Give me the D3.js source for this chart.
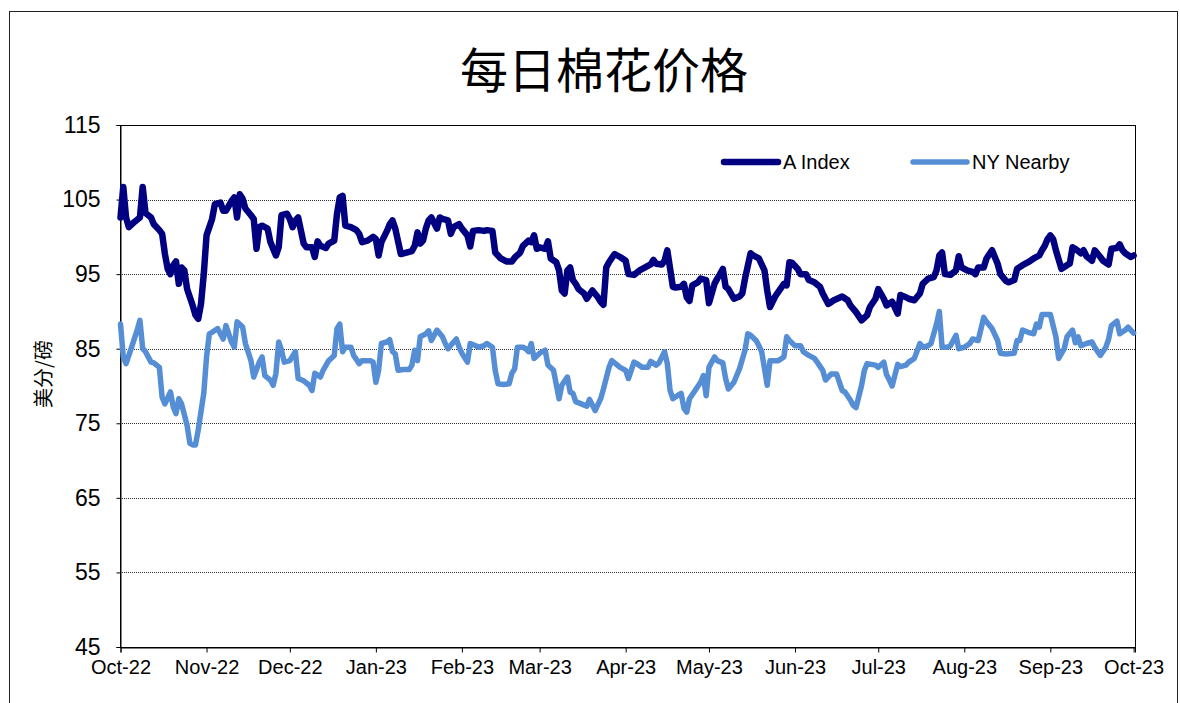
<!DOCTYPE html>
<meta charset="utf-8">
<script src="https://d3js.org/d3.v7.min.js"></script>
<style>
  body { margin: 0; background: #fff; }
  text { font-family: "Liberation Sans", Arial, sans-serif; fill: #000; }
</style>
<body>
<div id="chart"></div>
<script>

// chart texts
var title = "每日棉花价格";
var yLabel = "美分/磅";
var seriesNames = ["A Index", "NY Nearby"];
var yTicks = [45, 55, 65, 75, 85, 95, 105, 115];

// A Index, cents per pound
var aIndex = [
  ["2022-10-01",102.6],["2022-10-02",106.7],["2022-10-03",102.6],["2022-10-04",101.3],["2022-10-06",102.0],
  ["2022-10-08",102.6],["2022-10-09",106.7],["2022-10-10",103.2],["2022-10-12",102.6],["2022-10-13",101.7],
  ["2022-10-15",100.9],["2022-10-16",100.4],["2022-10-17",97.7],["2022-10-18",95.7],["2022-10-19",95.0],
  ["2022-10-20",96.2],["2022-10-21",96.7],["2022-10-22",93.7],["2022-10-23",95.9],["2022-10-24",95.5],
  ["2022-10-25",93.0],["2022-10-27",90.8],["2022-10-28",89.5],["2022-10-29",89.0],["2022-10-30",91.0],
  ["2022-10-31",95.0],["2022-11-01",100.2],["2022-11-03",102.4],["2022-11-04",104.4],["2022-11-06",104.6],
  ["2022-11-07",103.5],["2022-11-08",103.5],["2022-11-10",104.8],["2022-11-11",105.3],["2022-11-12",102.6],
  ["2022-11-13",105.7],["2022-11-14",105.1],["2022-11-15",103.8],["2022-11-17",102.9],["2022-11-18",102.4],
  ["2022-11-19",98.4],["2022-11-20",101.3],["2022-11-21",101.5],["2022-11-23",101.1],["2022-11-24",99.3],
  ["2022-11-26",97.5],["2022-11-27",98.6],["2022-11-28",102.9],["2022-11-30",103.1],["2022-12-01",102.4],
  ["2022-12-02",101.3],["2022-12-03",102.2],["2022-12-04",102.6],["2022-12-06",99.1],["2022-12-07",98.6],
  ["2022-12-09",98.6],["2022-12-10",97.3],["2022-12-11",99.4],["2022-12-12",98.8],["2022-12-14",98.5],
  ["2022-12-15",99.1],["2022-12-17",99.5],["2022-12-18",103.1],["2022-12-19",105.3],["2022-12-20",105.5],
  ["2022-12-21",101.5],["2022-12-23",101.3],["2022-12-25",100.9],["2022-12-26",100.4],["2022-12-27",99.3],
  ["2022-12-29",99.5],["2022-12-31",100.0],["2023-01-01",99.7],["2023-01-02",97.5],["2023-01-03",99.3],
  ["2023-01-05",100.8],["2023-01-06",101.7],["2023-01-07",102.2],["2023-01-08",101.1],["2023-01-10",97.7],
  ["2023-01-12",97.9],["2023-01-14",98.1],["2023-01-15",98.8],["2023-01-16",100.6],["2023-01-17",99.1],
  ["2023-01-18",99.5],["2023-01-19",101.1],["2023-01-20",102.2],["2023-01-21",102.6],["2023-01-23",101.1],
  ["2023-01-24",102.6],["2023-01-25",102.4],["2023-01-27",102.2],["2023-01-28",100.4],["2023-01-29",101.3],
  ["2023-01-31",101.7],["2023-02-01",101.1],["2023-02-03",100.2],["2023-02-04",98.7],["2023-02-05",100.8],
  ["2023-02-07",100.9],["2023-02-09",100.8],["2023-02-10",100.9],["2023-02-12",100.8],["2023-02-13",97.9],
  ["2023-02-15",97.1],["2023-02-17",96.7],["2023-02-19",96.7],["2023-02-20",97.2],["2023-02-22",97.9],
  ["2023-02-23",98.8],["2023-02-25",99.5],["2023-02-26",99.3],["2023-02-27",100.2],["2023-02-28",98.4],
  ["2023-03-01",98.6],["2023-03-03",98.4],["2023-03-04",99.4],["2023-03-05",97.1],["2023-03-07",96.6],
  ["2023-03-08",95.5],["2023-03-09",92.8],["2023-03-10",92.4],["2023-03-11",95.5],["2023-03-12",95.9],
  ["2023-03-13",94.2],["2023-03-14",93.7],["2023-03-15",93.0],["2023-03-17",92.4],["2023-03-18",91.7],
  ["2023-03-20",92.8],["2023-03-22",91.9],["2023-03-23",91.3],["2023-03-24",90.9],["2023-03-25",95.9],
  ["2023-03-26",96.6],["2023-03-28",97.7],["2023-03-30",97.3],["2023-04-01",96.8],["2023-04-02",95.0],
  ["2023-04-04",94.9],["2023-04-06",95.5],["2023-04-08",95.9],["2023-04-10",96.3],["2023-04-11",96.9],
  ["2023-04-12",96.4],["2023-04-14",96.3],["2023-04-15",96.8],["2023-04-16",98.2],["2023-04-18",93.3],
  ["2023-04-19",93.2],["2023-04-21",93.3],["2023-04-22",93.7],["2023-04-23",91.9],["2023-04-24",91.4],
  ["2023-04-25",93.5],["2023-04-27",93.9],["2023-04-28",94.4],["2023-04-30",94.2],["2023-05-01",91.1],
  ["2023-05-03",93.7],["2023-05-04",94.4],["2023-05-05",95.0],["2023-05-06",95.7],["2023-05-07",93.3],
  ["2023-05-08",93.0],["2023-05-10",91.7],["2023-05-12",92.0],["2023-05-13",92.4],["2023-05-14",94.4],
  ["2023-05-16",97.8],["2023-05-17",97.5],["2023-05-19",97.1],["2023-05-21",95.5],["2023-05-22",92.8],
  ["2023-05-23",90.6],["2023-05-25",92.1],["2023-05-28",93.7],["2023-05-29",93.5],["2023-05-30",96.6],
  ["2023-05-31",96.5],["2023-06-02",95.7],["2023-06-03",95.0],["2023-06-05",95.0],["2023-06-06",94.2],
  ["2023-06-08",93.9],["2023-06-10",93.3],["2023-06-11",92.4],["2023-06-13",91.0],["2023-06-15",91.5],
  ["2023-06-18",92.0],["2023-06-20",91.5],["2023-06-21",90.8],["2023-06-23",89.9],["2023-06-25",88.8],
  ["2023-06-27",89.5],["2023-06-28",90.6],["2023-06-30",91.7],["2023-07-01",93.0],["2023-07-03",91.7],
  ["2023-07-04",90.8],["2023-07-06",91.3],["2023-07-08",89.7],["2023-07-09",92.2],["2023-07-11",91.9],
  ["2023-07-12",91.7],["2023-07-14",91.5],["2023-07-16",92.4],["2023-07-17",93.7],["2023-07-19",94.4],
  ["2023-07-21",94.6],["2023-07-22",95.5],["2023-07-23",97.5],["2023-07-24",97.9],["2023-07-25",95.0],
  ["2023-07-27",94.9],["2023-07-29",95.5],["2023-07-30",97.4],["2023-07-31",95.9],["2023-08-02",95.5],
  ["2023-08-04",95.3],["2023-08-05",95.0],["2023-08-06",95.9],["2023-08-08",95.9],["2023-08-09",97.1],
  ["2023-08-11",98.2],["2023-08-13",96.4],["2023-08-14",95.0],["2023-08-16",94.1],["2023-08-17",93.9],
  ["2023-08-19",94.2],["2023-08-20",95.7],["2023-08-22",96.2],["2023-08-24",96.6],["2023-08-26",97.1],
  ["2023-08-28",97.5],["2023-08-29",98.2],["2023-08-30",98.8],["2023-08-31",99.7],["2023-09-01",100.2],
  ["2023-09-02",99.7],["2023-09-03",98.2],["2023-09-05",95.7],["2023-09-07",96.2],["2023-09-08",96.4],
  ["2023-09-09",98.6],["2023-09-10",98.4],["2023-09-12",97.8],["2023-09-13",98.2],["2023-09-14",97.4],
  ["2023-09-16",96.8],["2023-09-17",98.2],["2023-09-19",97.3],["2023-09-20",96.8],["2023-09-22",96.3],
  ["2023-09-23",98.4],["2023-09-25",98.5],["2023-09-26",99.0],["2023-09-27",98.2],["2023-09-28",97.8],
  ["2023-09-30",97.3],["2023-10-01",97.5]
];

// NY Nearby futures, cents per pound
var nyNearby = [
  ["2022-10-01",88.3],["2022-10-02",83.9],["2022-10-03",83.0],["2022-10-05",85.2],["2022-10-07",87.5],
  ["2022-10-08",88.8],["2022-10-09",85.0],["2022-10-10",84.6],["2022-10-12",83.2],["2022-10-13",83.1],
  ["2022-10-15",82.5],["2022-10-16",78.5],["2022-10-17",77.6],["2022-10-19",79.2],["2022-10-20",77.2],
  ["2022-10-21",76.3],["2022-10-22",78.3],["2022-10-23",77.6],["2022-10-25",74.7],["2022-10-26",72.3],
  ["2022-10-27",72.1],["2022-10-28",72.1],["2022-10-29",74.1],["2022-10-31",79.0],["2022-11-01",83.9],
  ["2022-11-02",87.0],["2022-11-03",87.2],["2022-11-05",87.7],["2022-11-07",86.3],["2022-11-08",88.1],
  ["2022-11-09",87.0],["2022-11-10",85.9],["2022-11-11",85.2],["2022-11-12",88.6],["2022-11-14",87.9],
  ["2022-11-15",85.7],["2022-11-17",83.4],["2022-11-18",81.2],["2022-11-20",83.2],["2022-11-21",83.9],
  ["2022-11-22",81.4],["2022-11-24",80.8],["2022-11-25",80.1],["2022-11-26",81.7],["2022-11-27",85.9],
  ["2022-11-28",84.8],["2022-11-29",83.2],["2022-12-01",83.4],["2022-12-03",84.6],["2022-12-04",81.0],
  ["2022-12-06",80.7],["2022-12-08",80.1],["2022-12-09",79.4],["2022-12-10",81.7],["2022-12-12",81.2],
  ["2022-12-13",82.1],["2022-12-15",83.4],["2022-12-17",84.1],["2022-12-18",87.7],["2022-12-19",88.3],
  ["2022-12-20",84.6],["2022-12-21",85.2],["2022-12-23",85.2],["2022-12-24",84.1],["2022-12-26",83.0],
  ["2022-12-27",83.4],["2022-12-30",83.4],["2022-12-31",83.2],["2023-01-01",80.5],["2023-01-02",82.1],
  ["2023-01-03",85.7],["2023-01-05",85.9],["2023-01-06",86.2],["2023-01-07",84.6],["2023-01-08",84.3],
  ["2023-01-09",82.1],["2023-01-11",82.2],["2023-01-13",82.2],["2023-01-14",82.8],["2023-01-15",84.8],
  ["2023-01-16",83.4],["2023-01-17",86.6],["2023-01-19",87.0],["2023-01-20",87.4],["2023-01-21",86.1],
  ["2023-01-23",87.5],["2023-01-25",86.6],["2023-01-26",85.7],["2023-01-27",85.0],["2023-01-29",85.9],
  ["2023-01-30",86.3],["2023-01-31",85.2],["2023-02-01",84.4],["2023-02-03",83.2],["2023-02-04",85.7],
  ["2023-02-06",85.4],["2023-02-07",85.2],["2023-02-09",85.4],["2023-02-10",85.7],["2023-02-12",85.2],
  ["2023-02-13",82.1],["2023-02-14",80.3],["2023-02-16",80.2],["2023-02-18",80.3],["2023-02-19",81.7],
  ["2023-02-20",82.3],["2023-02-21",85.2],["2023-02-23",85.2],["2023-02-24",85.0],["2023-02-25",84.6],
  ["2023-02-26",85.7],["2023-02-27",83.7],["2023-03-01",84.4],["2023-03-02",84.6],["2023-03-03",84.8],
  ["2023-03-04",82.8],["2023-03-06",82.1],["2023-03-08",78.3],["2023-03-09",80.1],["2023-03-11",81.2],
  ["2023-03-12",79.2],["2023-03-13",79.0],["2023-03-14",77.9],["2023-03-16",77.6],["2023-03-18",77.3],
  ["2023-03-19",78.2],["2023-03-21",76.7],["2023-03-23",78.3],["2023-03-24",79.6],["2023-03-26",82.5],
  ["2023-03-27",83.4],["2023-03-29",82.8],["2023-03-30",82.5],["2023-04-01",82.1],["2023-04-02",81.0],
  ["2023-04-04",83.2],["2023-04-05",83.0],["2023-04-07",82.5],["2023-04-09",82.5],["2023-04-10",83.3],
  ["2023-04-12",82.8],["2023-04-13",83.1],["2023-04-15",84.6],["2023-04-16",83.0],["2023-04-17",79.4],
  ["2023-04-18",78.3],["2023-04-20",78.8],["2023-04-21",79.0],["2023-04-22",77.0],["2023-04-23",76.5],
  ["2023-04-24",78.3],["2023-04-26",79.4],["2023-04-28",80.5],["2023-04-29",81.4],["2023-04-30",78.7],
  ["2023-05-01",82.5],["2023-05-03",83.9],["2023-05-04",83.4],["2023-05-06",83.1],["2023-05-07",81.0],
  ["2023-05-08",79.6],["2023-05-10",80.5],["2023-05-11",81.4],["2023-05-12",82.3],["2023-05-14",84.8],
  ["2023-05-15",87.0],["2023-05-16",86.8],["2023-05-18",86.1],["2023-05-19",85.4],["2023-05-20",84.6],
  ["2023-05-22",80.1],["2023-05-23",83.4],["2023-05-24",83.4],["2023-05-26",83.4],["2023-05-28",83.9],
  ["2023-05-29",86.6],["2023-05-30",86.1],["2023-06-01",85.4],["2023-06-03",85.4],["2023-06-04",84.6],
  ["2023-06-06",84.1],["2023-06-08",83.7],["2023-06-09",83.2],["2023-06-11",82.1],["2023-06-12",80.8],
  ["2023-06-14",81.6],["2023-06-16",81.6],["2023-06-18",79.4],["2023-06-19",79.2],["2023-06-21",78.1],
  ["2023-06-22",77.4],["2023-06-23",77.1],["2023-06-25",80.1],["2023-06-26",82.1],["2023-06-27",83.0],
  ["2023-06-30",82.8],["2023-07-01",82.5],["2023-07-03",83.2],["2023-07-04",81.5],["2023-07-05",80.8],
  ["2023-07-06",80.0],["2023-07-08",82.9],["2023-07-09",82.6],["2023-07-11",82.8],["2023-07-12",83.2],
  ["2023-07-14",83.7],["2023-07-16",85.7],["2023-07-17",85.2],["2023-07-19",85.4],["2023-07-20",85.7],
  ["2023-07-22",88.3],["2023-07-23",90.0],["2023-07-24",85.2],["2023-07-26",85.2],["2023-07-27",85.4],
  ["2023-07-29",86.8],["2023-07-30",85.0],["2023-08-01",85.2],["2023-08-03",85.7],["2023-08-04",86.3],
  ["2023-08-06",86.1],["2023-08-08",89.2],["2023-08-09",88.6],["2023-08-11",87.7],["2023-08-13",86.1],
  ["2023-08-14",84.4],["2023-08-16",84.3],["2023-08-19",84.4],["2023-08-20",86.1],["2023-08-21",86.1],
  ["2023-08-22",87.5],["2023-08-24",87.2],["2023-08-26",87.0],["2023-08-27",88.3],["2023-08-28",87.9],
  ["2023-08-29",89.6],["2023-08-31",89.6],["2023-09-01",89.6],["2023-09-03",86.6],["2023-09-04",83.7],
  ["2023-09-06",85.0],["2023-09-07",86.6],["2023-09-09",87.5],["2023-09-10",85.8],["2023-09-11",86.6],
  ["2023-09-12",85.4],["2023-09-14",85.7],["2023-09-16",85.9],["2023-09-17",85.2],["2023-09-19",84.1],
  ["2023-09-21",85.2],["2023-09-22",86.3],["2023-09-23",88.1],["2023-09-25",88.7],["2023-09-26",87.0],
  ["2023-09-28",87.5],["2023-09-29",87.9],["2023-09-30",87.5],["2023-10-01",87.1]
];

var colors = ["#000080", "#558ed5"];
var widths = [6.5, 5.5];

var W = 1180, H = 703;
var margin = {top: 125, right: 45, bottom: 56, left: 120};
var width = W - margin.left - margin.right,
    height = H - margin.top - margin.bottom;

var parse = d3.timeParse("%Y-%m-%d");
var series = [aIndex, nyNearby].map(function(s) {
  return s.map(function(d) { return {date: parse(d[0]), value: d[1]}; });
});

var svg = d3.select("#chart").append("svg")
    .attr("width", W)
    .attr("height", H);

// outer frame
svg.append("rect")
    .attr("x", 9.5).attr("y", 11.5)
    .attr("width", 1168).attr("height", 720)
    .attr("fill", "none")
    .attr("stroke", "#222");

svg.append("text")
    .attr("x", 604)
    .attr("y", 88)
    .attr("text-anchor", "middle")
    .style("font-family", "'Noto Sans CJK SC', sans-serif")
    .style("font-size", "48px")
    .text(title);

var g = svg.append("g")
    .attr("transform", "translate(" + margin.left + "," + margin.top + ")");

var x = d3.scaleTime()
    .domain([new Date(2022, 9, 1), new Date(2023, 9, 1, 12)])
    .range([0.5, width]);

var y = d3.scaleLinear()
    .domain([45, 115])
    .range([height, 0]);

// dotted gridlines
g.append("g").selectAll("line")
  .data(yTicks.slice(1, -1))
  .enter().append("line")
    .attr("x1", 0).attr("x2", width)
    .attr("y1", function(d) { return Math.round(y(d)) + 0.5; })
    .attr("y2", function(d) { return Math.round(y(d)) + 0.5; })
    .attr("stroke", "#333")
    .attr("stroke-dasharray", "1,1");

// plot border
g.append("rect")
    .attr("x", 0.5).attr("y", 0.5)
    .attr("width", width).attr("height", height)
    .attr("fill", "none")
    .attr("stroke", "#000");

// y axis
var yAxis = g.append("g")
    .attr("transform", "translate(0.5,0)")
    .call(d3.axisLeft(y).tickValues(yTicks).tickSize(4).tickPadding(16));
yAxis.select(".domain").attr("stroke", "#000");
yAxis.selectAll("text")
    .style("font-family", "'Liberation Sans', Arial, sans-serif")
    .style("font-size", "23px");

// x axis
var xAxis = g.append("g")
    .attr("transform", "translate(0," + (height + 0.5) + ")")
    .call(d3.axisBottom(x).ticks(d3.timeMonth.every(1)).tickFormat(d3.timeFormat("%b-%y")).tickSize(5).tickPadding(7));
xAxis.selectAll("text")
    .style("font-family", "'Liberation Sans', Arial, sans-serif")
    .style("font-size", "20px");

svg.append("text")
    .attr("transform", "translate(51,374) rotate(-90)")
    .attr("text-anchor", "middle")
    .style("font-family", "'Noto Sans CJK SC', sans-serif")
    .style("font-size", "20px")
    .text(yLabel);

var line = d3.line()
    .x(function(d) { return x(d.date); })
    .y(function(d) { return y(d.value); });

// draw the light series first so the navy one sits on top
[1, 0].forEach(function(i) {
  g.append("path")
    .datum(series[i])
    .attr("d", line)
    .attr("fill", "none")
    .attr("stroke", colors[i])
    .attr("stroke-width", widths[i])
    .attr("stroke-linejoin", "round")
    .attr("stroke-linecap", "round");
});

// legend
var legend = svg.append("g").selectAll("g")
  .data(seriesNames)
  .enter().append("g")
    .attr("transform", function(d, i) { return "translate(" + (724 + i * 189) + ",162)"; });
legend.append("line")
    .attr("x1", 0).attr("x2", 54)
    .attr("stroke", function(d, i) { return colors[i]; })
    .attr("stroke-width", function(d, i) { return widths[i]; })
    .attr("stroke-linecap", "round");
legend.append("text")
    .attr("x", 59)
    .attr("dy", "0.35em")
    .style("font-size", "20px")
    .text(function(d) { return d; });

</script>
</body>
